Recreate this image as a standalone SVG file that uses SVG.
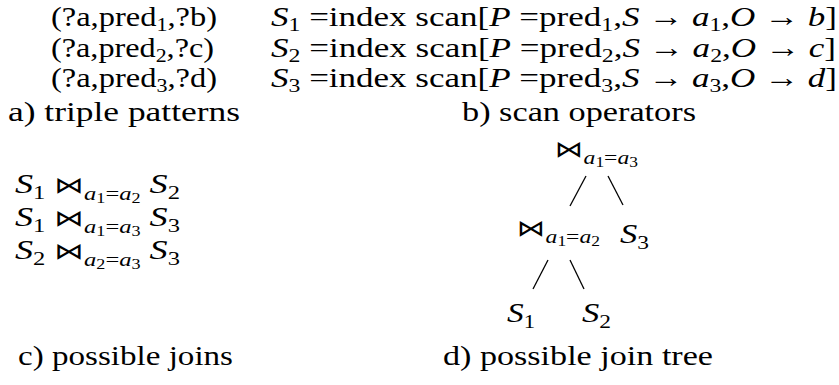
<svg xmlns="http://www.w3.org/2000/svg" width="839" height="385" viewBox="0 0 839 385">
<style>
text{font-family:"Liberation Serif","Times New Roman",serif;font-size:28px;fill:#000}
.i{font-style:italic}
.sb{font-size:19px}
.ss{font-size:14px}
.bt{font-family:"DejaVu Sans",sans-serif;font-size:23px;font-style:normal}
.edge{stroke:#000;stroke-width:1.3;fill:none}
</style>
<rect width="839" height="385" fill="#fff"/>
<g id="triple-patterns">
<text x="51" y="26" textLength="166" lengthAdjust="spacingAndGlyphs">(?a,pred<tspan class="sb" dy="5">1</tspan><tspan dy="-5">,?b)</tspan></text>
<text x="51" y="56.5" textLength="163" lengthAdjust="spacingAndGlyphs">(?a,pred<tspan class="sb" dy="5">2</tspan><tspan dy="-5">,?c)</tspan></text>
<text x="51" y="87" textLength="166" lengthAdjust="spacingAndGlyphs">(?a,pred<tspan class="sb" dy="5">3</tspan><tspan dy="-5">,?d)</tspan></text>
<text x="8" y="121" textLength="232" lengthAdjust="spacingAndGlyphs">a) triple patterns</text>
</g>
<g id="scan-operators">
<text x="271" y="26" textLength="566" lengthAdjust="spacingAndGlyphs"><tspan class="i">S</tspan><tspan class="sb" dy="5">1</tspan><tspan dy="-5"> =index scan[</tspan><tspan class="i">P</tspan><tspan> =pred</tspan><tspan class="sb" dy="5">1</tspan><tspan dy="-5">,</tspan><tspan class="i">S</tspan><tspan> → </tspan><tspan class="i">a</tspan><tspan class="sb" dy="5">1</tspan><tspan dy="-5">,</tspan><tspan class="i">O</tspan><tspan> → </tspan><tspan class="i">b</tspan><tspan>]</tspan></text>
<text x="271" y="56.5" textLength="565" lengthAdjust="spacingAndGlyphs"><tspan class="i">S</tspan><tspan class="sb" dy="5">2</tspan><tspan dy="-5"> =index scan[</tspan><tspan class="i">P</tspan><tspan> =pred</tspan><tspan class="sb" dy="5">2</tspan><tspan dy="-5">,</tspan><tspan class="i">S</tspan><tspan> → </tspan><tspan class="i">a</tspan><tspan class="sb" dy="5">2</tspan><tspan dy="-5">,</tspan><tspan class="i">O</tspan><tspan> → </tspan><tspan class="i">c</tspan><tspan>]</tspan></text>
<text x="271" y="87" textLength="566" lengthAdjust="spacingAndGlyphs"><tspan class="i">S</tspan><tspan class="sb" dy="5">3</tspan><tspan dy="-5"> =index scan[</tspan><tspan class="i">P</tspan><tspan> =pred</tspan><tspan class="sb" dy="5">3</tspan><tspan dy="-5">,</tspan><tspan class="i">S</tspan><tspan> → </tspan><tspan class="i">a</tspan><tspan class="sb" dy="5">3</tspan><tspan dy="-5">,</tspan><tspan class="i">O</tspan><tspan> → </tspan><tspan class="i">d</tspan><tspan>]</tspan></text>
<text x="462" y="121" textLength="234" lengthAdjust="spacingAndGlyphs">b) scan operators</text>
</g>
<g id="possible-joins">
<text x="15" y="193" textLength="165" lengthAdjust="spacingAndGlyphs"><tspan class="i">S</tspan><tspan class="sb" dy="6">1</tspan><tspan dy="-6"> </tspan><tspan class="bt">⋈</tspan><tspan class="sb i" dy="7">a</tspan><tspan class="ss" dy="3">1</tspan><tspan class="sb" dy="-3">=</tspan><tspan class="sb i">a</tspan><tspan class="ss" dy="3">2</tspan><tspan dy="-10"> </tspan><tspan class="i">S</tspan><tspan class="sb" dy="6">2</tspan></text>
<text x="15" y="226" textLength="165" lengthAdjust="spacingAndGlyphs"><tspan class="i">S</tspan><tspan class="sb" dy="6">1</tspan><tspan dy="-6"> </tspan><tspan class="bt">⋈</tspan><tspan class="sb i" dy="7">a</tspan><tspan class="ss" dy="3">1</tspan><tspan class="sb" dy="-3">=</tspan><tspan class="sb i">a</tspan><tspan class="ss" dy="3">3</tspan><tspan dy="-10"> </tspan><tspan class="i">S</tspan><tspan class="sb" dy="6">3</tspan></text>
<text x="15" y="259" textLength="165" lengthAdjust="spacingAndGlyphs"><tspan class="i">S</tspan><tspan class="sb" dy="6">2</tspan><tspan dy="-6"> </tspan><tspan class="bt">⋈</tspan><tspan class="sb i" dy="7">a</tspan><tspan class="ss" dy="3">2</tspan><tspan class="sb" dy="-3">=</tspan><tspan class="sb i">a</tspan><tspan class="ss" dy="3">3</tspan><tspan dy="-10"> </tspan><tspan class="i">S</tspan><tspan class="sb" dy="6">3</tspan></text>
<text x="18" y="365" textLength="215" lengthAdjust="spacingAndGlyphs">c) possible joins</text>
</g>
<g id="connectors">
<line class="edge" x1="586" y1="176" x2="570" y2="206"/>
<line class="edge" x1="608" y1="176" x2="623" y2="205"/>
<line class="edge" x1="548" y1="260" x2="533" y2="289"/>
<line class="edge" x1="570" y1="260" x2="584" y2="289"/>
</g>
<g id="join-top">
<text x="555" y="157" textLength="83" lengthAdjust="spacingAndGlyphs"><tspan class="bt">⋈</tspan><tspan class="sb i" dy="7">a</tspan><tspan class="ss" dy="3">1</tspan><tspan class="sb" dy="-3">=</tspan><tspan class="sb i">a</tspan><tspan class="ss" dy="3">3</tspan></text>
</g>
<g id="join-mid">
<text x="517" y="236" textLength="83" lengthAdjust="spacingAndGlyphs"><tspan class="bt">⋈</tspan><tspan class="sb i" dy="7">a</tspan><tspan class="ss" dy="3">1</tspan><tspan class="sb" dy="-3">=</tspan><tspan class="sb i">a</tspan><tspan class="ss" dy="3">2</tspan></text>
</g>
<g id="leaf-s3">
<text x="620" y="243" textLength="29" lengthAdjust="spacingAndGlyphs"><tspan class="i">S</tspan><tspan class="sb" dy="6">3</tspan></text>
</g>
<g id="leaf-s1">
<text x="507" y="322" textLength="28" lengthAdjust="spacingAndGlyphs"><tspan class="i">S</tspan><tspan class="sb" dy="6">1</tspan></text>
</g>
<g id="leaf-s2">
<text x="582" y="322" textLength="29" lengthAdjust="spacingAndGlyphs"><tspan class="i">S</tspan><tspan class="sb" dy="6">2</tspan></text>
</g>
<text x="443" y="365" textLength="270" lengthAdjust="spacingAndGlyphs">d) possible join tree</text>
</svg>
